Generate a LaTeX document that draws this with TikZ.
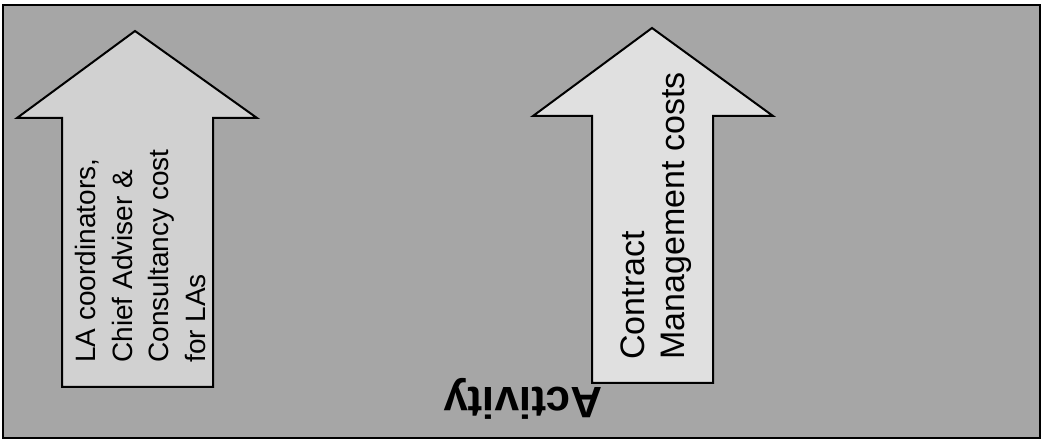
\documentclass[tikz,border=0pt]{standalone}
\usepackage{fontspec}
\setmainfont{Liberation Sans}
\usetikzlibrary{positioning}

\begin{document}
\begin{tikzpicture}[
  x=0.75pt, y=0.75pt,
  uparrow/.style={draw, line width=1.5pt, line join=miter},
  uptext/.style={rotate=90, anchor=north west, inner sep=0pt, align=left},
]
\useasboundingbox (0,0) rectangle (1044,441);
% Fondo
\draw[line width=1.5pt, fill=black!35] (3,3) rectangle (1040,436);
% Flecha izquierda
\draw[uparrow, fill=black!18] (62,54) -- (62,323) -- (17,323) -- (135,410)
  -- (257,323) -- (213,323) -- (213,54) -- cycle;
\node[uptext, font=\fontsize{21}{27.5}\selectfont] (lacost) at (75,78)
  {LA coordinators,\\Chief Adviser \&\\Consultancy cost\\for LAs};
% Flecha derecha
\draw[uparrow, fill=black!12] (592,58) -- (592,325) -- (533,325) -- (652,413)
  -- (773,325) -- (713,325) -- (713,58) -- cycle;
\node[uptext, font=\fontsize{25.5}{30}\selectfont] (contract) at (620,81)
  {Contract\\Management costs};
% Titulo
\node[rotate=180, inner sep=0pt, font=\fontsize{33}{40}\bfseries] (activity) at (523,42) {Activity};
\end{tikzpicture}
\end{document}
